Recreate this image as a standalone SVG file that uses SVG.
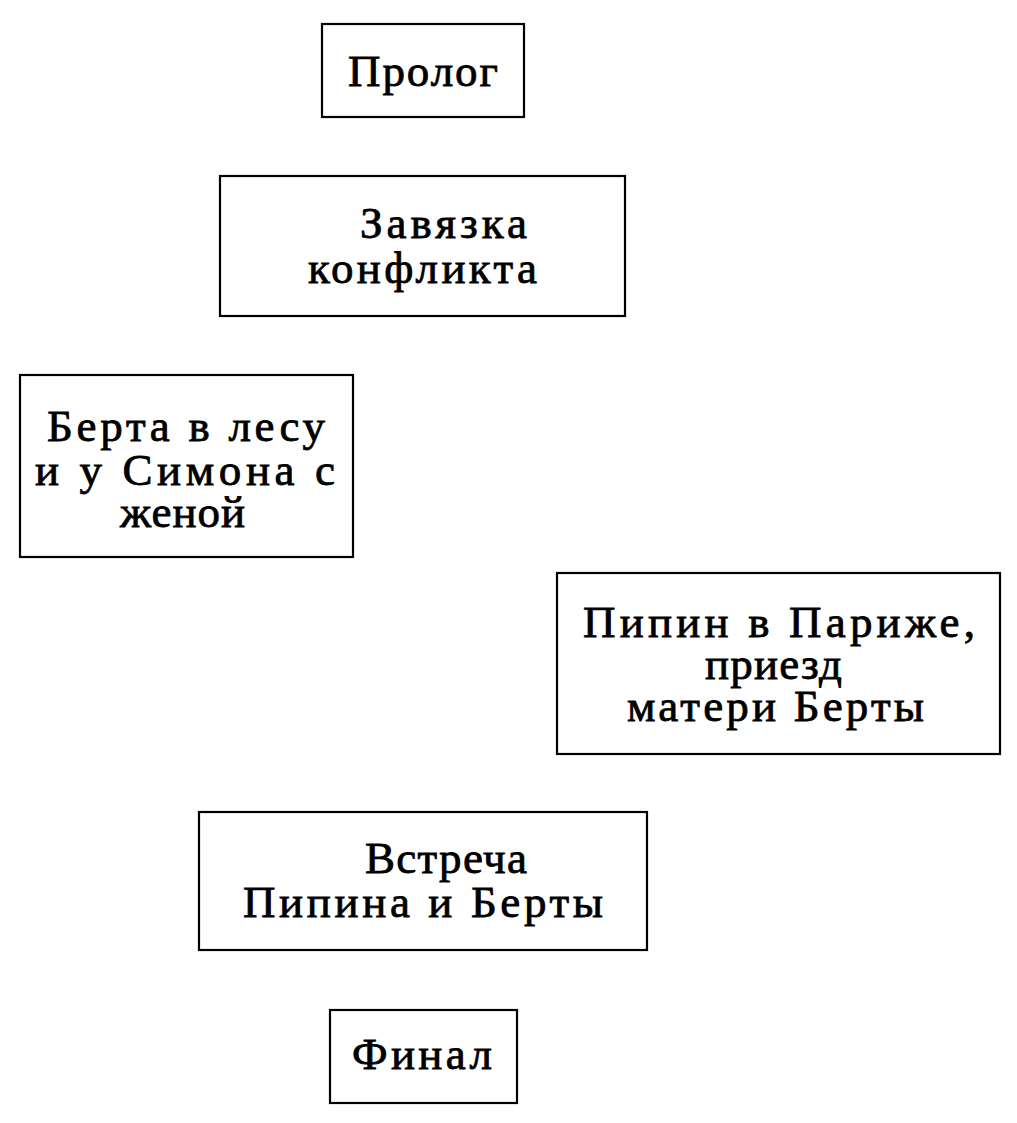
<svg xmlns="http://www.w3.org/2000/svg" width="1017" height="1123" viewBox="0 0 1017 1123">
<style>
.box{fill:#fff;stroke:#000;stroke-width:2.2}
.t{font-family:"Liberation Serif","DejaVu Serif",serif;font-size:45px;fill:#000;stroke:#000;stroke-width:0.8}
</style>
<rect width="1017" height="1123" fill="#fff"/>
<g id="connectors"></g>
<g id="prolog">
<rect class="box" x="322" y="24" width="202" height="93"/>
<text class="t" x="348" y="86" textLength="150" lengthAdjust="spacing">Пролог</text>
</g>
<g id="zavyazka">
<rect class="box" x="220" y="176" width="405" height="140"/>
<text class="t" x="360" y="238" textLength="167" lengthAdjust="spacing">Завязка</text>
<text class="t" x="308" y="283" textLength="229" lengthAdjust="spacing">конфликта</text>
</g>
<g id="berta">
<rect class="box" x="20" y="375" width="333" height="182"/>
<text class="t" x="47" y="441" textLength="278" lengthAdjust="spacing">Берта в лесу</text>
<text class="t" x="35" y="485" textLength="300" lengthAdjust="spacing">и у Симона с</text>
<text class="t" x="120" y="527" textLength="125" lengthAdjust="spacing">женой</text>
</g>
<g id="pipin">
<rect class="box" x="557" y="573" width="443" height="181"/>
<text class="t" x="583" y="637" textLength="392" lengthAdjust="spacing">Пипин в Париже,</text>
<text class="t" x="705" y="679" textLength="137" lengthAdjust="spacing">приезд</text>
<text class="t" x="627" y="721" textLength="297" lengthAdjust="spacing">матери Берты</text>
</g>
<g id="vstrecha">
<rect class="box" x="199" y="812" width="448" height="138"/>
<text class="t" x="365" y="873" textLength="162" lengthAdjust="spacing">Встреча</text>
<text class="t" x="243" y="917" textLength="360" lengthAdjust="spacing">Пипина и Берты</text>
</g>
<g id="final">
<rect class="box" x="330" y="1010" width="187" height="93"/>
<text class="t" x="352" y="1069" textLength="140" lengthAdjust="spacing">Финал</text>
</g>
</svg>
